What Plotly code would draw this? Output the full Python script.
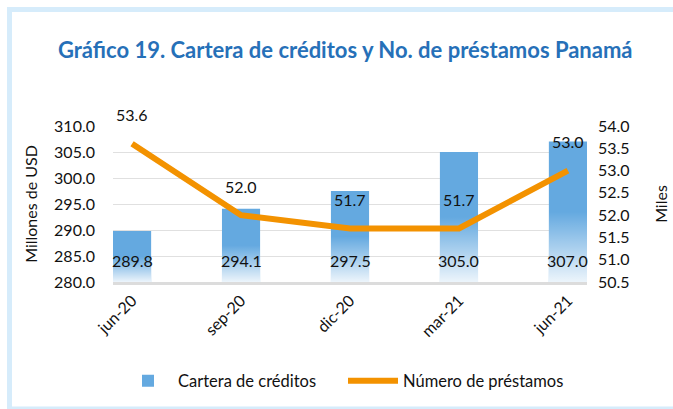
import plotly.graph_objects as go

categories = ["jun-20", "sep-20", "dic-20", "mar-21", "jun-21"]
cartera = [289.8, 294.1, 297.5, 305.0, 307.0]
prestamos = [53.6, 52.0, 51.7, 51.7, 53.0]
cartera_labels = ["289.8", "294.1", "297.5", "305.0", "307.0"]
prestamos_labels = ["53.6", "52.0", "51.7", "51.7", "53.0"]
left_ticks = [280, 285, 290, 295, 300, 305, 310]
right_ticks = [50.5, 51.0, 51.5, 52.0, 52.5, 53.0, 53.5, 54.0]

FONT = "Lato"
BLUE = "#64a9e0"
ORANGE = "#f39200"
BW = 0.35
BASE = 280

idx = list(range(len(categories)))

fig = go.Figure()
fig.add_trace(go.Bar(
    x=idx, y=cartera, width=BW, marker=dict(color=BLUE, line=dict(width=0)),
    name="Cartera de créditos", yaxis="y", hoverinfo="skip",
))
# white fade at the base of each bar (Excel-like gradient)
for i, v in zip(idx, cartera):
    fig.add_trace(go.Scatter(
        x=[i - BW / 2, i + BW / 2, i + BW / 2, i - BW / 2, i - BW / 2],
        y=[BASE, BASE, v, v, BASE],
        mode="lines", line=dict(width=0), fill="toself",
        fillgradient=dict(type="vertical", start=BASE, stop=v,
                          colorscale=[[0, "rgba(255,255,255,0.88)"],
                                      [0.5, "rgba(255,255,255,0)"],
                                      [1, "rgba(255,255,255,0)"]]),
        showlegend=False, hoverinfo="skip", yaxis="y",
    ))
fig.add_trace(go.Scatter(
    x=idx, y=prestamos, mode="lines", line=dict(color=ORANGE, width=6),
    name="Número de préstamos", yaxis="y2", hoverinfo="skip",
))

annotations = []
for i, t in zip(idx, cartera_labels):
    annotations.append(dict(x=i, y=BASE, xref="x", yref="y", text=t,
                            showarrow=False, yshift=22, yanchor="middle",
                            font=dict(family=FONT, size=16, color="#111111")))
for i, v, t in zip(idx, prestamos, prestamos_labels):
    annotations.append(dict(x=i, y=v, xref="x", yref="y2", text=t,
                            showarrow=False, yshift=29, yanchor="middle",
                            font=dict(family=FONT, size=16, color="#111111")))

L, R, T, B = 113, 86, 126, 127
W, H = 673, 409
pw, ph = W - L - R, H - T - B

def px(x):
    return (x - L) / pw

def py(y):
    return (H - B - y) / ph

shapes = [dict(type="rect", xref="paper", yref="paper",
               x0=px(9.5), x1=px(690), y0=py(409), y1=py(9.5),
               line=dict(color="#d6ecfb", width=5), fillcolor="rgba(0,0,0,0)",
               layer="above")]

fig.update_layout(
    width=W, height=H,
    margin=dict(l=L, r=R, t=T, b=B, autoexpand=False),
    paper_bgcolor="white", plot_bgcolor="white",
    font=dict(family=FONT, size=16, color="#111111"),
    title=dict(text="<b>Gráfico 19. Cartera de créditos y No. de préstamos Panamá</b>",
               x=0.513, xref="container", xanchor="center",
               y=1 - 50 / H, yref="container", yanchor="middle",
               font=dict(family=FONT, size=22, color="#2670b8")),
    xaxis=dict(range=[-BW / 2, len(categories) - 1 + BW / 2],
               tickvals=idx, ticktext=categories, tickangle=-45,
               showgrid=False, zeroline=False, showline=True,
               linecolor="#dcdcdc", linewidth=3, ticks="", automargin=False,
               tickfont=dict(family=FONT, size=16)),
    yaxis=dict(range=[280, 310], tickvals=left_ticks,
               ticktext=[f"{t:.1f}" for t in left_ticks],
               showgrid=True, gridcolor="#e0e0e0", gridwidth=1, zeroline=False,
               automargin=False, ticklabelstandoff=17,
               title=dict(text="Millones de USD", standoff=12,
                          font=dict(family=FONT, size=16)),
               tickfont=dict(family=FONT, size=16)),
    yaxis2=dict(range=[50.5, 54.0], tickvals=right_ticks,
                ticktext=[f"{t:.1f}" for t in right_ticks],
                overlaying="y", side="right", showgrid=False, zeroline=False,
                automargin=False, ticklabelstandoff=10,
                title=dict(text="Miles", standoff=27,
                           font=dict(family=FONT, size=16)),
                tickfont=dict(family=FONT, size=16)),
    legend=dict(orientation="h", x=px(118), xanchor="left",
                y=py(381), yanchor="middle",
                font=dict(family=FONT, size=16.5), itemwidth=50,
                entrywidth=160, traceorder="normal"),
    annotations=annotations,
    shapes=shapes,
    showlegend=True,
)

fig.write_html("out.html", config={"displayModeBar": False},
               post_script="document.body.style.margin='0';")
